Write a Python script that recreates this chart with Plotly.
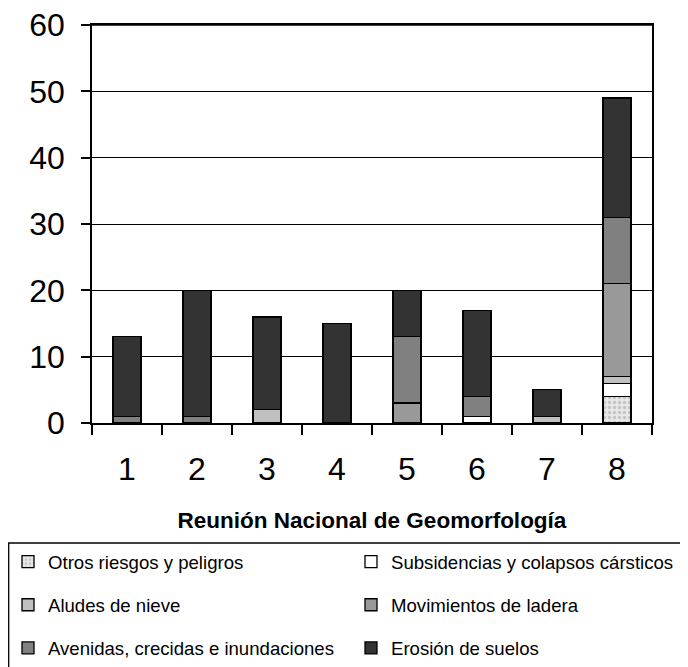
import plotly.graph_objects as go

reuniones = ["1", "2", "3", "4", "5", "6", "7", "8"]
otros = [0, 0, 0, 0, 0, 0, 0, 4]
subsidencias = [0, 0, 0, 0, 0, 1, 0, 2]
aludes = [0, 0, 2, 0, 0, 0, 1, 1]
movimientos = [0, 0, 0, 0, 3, 0, 0, 14]
avenidas = [1, 1, 0, 0, 10, 3, 0, 10]
erosion = [12, 19, 14, 15, 7, 13, 4, 18]
y_ticks = [0, 10, 20, 30, 40, 50, 60]

# (name, values, colour, patterned, legend column)
series = [
    ("Otros riesgos y peligros", otros, "#e2e2e2", True, "legend"),
    ("Subsidencias y colapsos cársticos", subsidencias, "#ffffff", False, "legend2"),
    ("Aludes de nieve", aludes, "#c0c0c0", False, "legend"),
    ("Movimientos de ladera", movimientos, "#999999", False, "legend2"),
    ("Avenidas, crecidas e inundaciones", avenidas, "#808080", False, "legend"),
    ("Erosión de suelos", erosion, "#333333", False, "legend2"),
]

fig = go.Figure()
for name, vals, color, pat, leg in series:
    marker = dict(color=color, line=dict(color="#000000", width=1.3))
    if pat:
        marker["pattern"] = dict(shape=".", fgcolor="#a0a0a0", bgcolor="#e8e8e8", size=5, solidity=0.35)
    fig.add_trace(go.Bar(x=reuniones, y=vals, name=name, marker=marker,
                         legend=leg, legendgroup=name))

font_family = "Liberation Sans, Arial, sans-serif"
OFF = 8  # page body margin
FW, FH = 680, 659
PL, PT, PW, PH = 92 - OFF, 25 - OFF, 560, 398


def px_x(screen):
    return (screen - OFF - PL) / PW


def px_y(screen):
    return (PT + PH - (screen - OFF)) / PH


leg_common = dict(
    orientation="v",
    xanchor="left",
    yanchor="top",
    borderwidth=0,
    bgcolor="rgba(0,0,0,0)",
    font=dict(size=18.6, family=font_family),
    tracegroupgap=16,
    traceorder="grouped",
)

fig.update_layout(
    barmode="stack",
    bargap=0.6,
    width=FW,
    height=FH,
    margin=dict(l=PL, r=FW - PL - PW, t=PT, b=FH - PT - PH, autoexpand=False),
    plot_bgcolor="#ffffff",
    paper_bgcolor="#ffffff",
    font=dict(family=font_family, color="#000000"),
    showlegend=True,
    legend=dict(x=px_x(8), y=px_y(543), **leg_common),
    legend2=dict(x=px_x(351), y=px_y(543), **leg_common),
    shapes=[
        dict(type="rect", xref="paper", yref="paper",
             x0=px_x(8.7), x1=px_x(700), y0=px_y(543), y1=px_y(690),
             line=dict(color="#000000", width=1.3), fillcolor="rgba(0,0,0,0)", layer="below"),
        dict(type="line", xref="paper", yref="paper", x0=0, x1=1, y0=1, y1=1,
             line=dict(color="#000000", width=1.5), layer="above"),
    ],
    xaxis=dict(
        type="category",
        tickson="boundaries",
        ticks="outside",
        ticklen=10,
        tickcolor="#000000",
        tickwidth=1.5,
        showline=True,
        linecolor="#000000",
        linewidth=1.5,
        mirror=True,
        tickfont=dict(size=32),
        ticklabelstandoff=17,
        ticklabeloverflow="allow",
        title=dict(text="<b>Reunión Nacional de Geomorfología</b>", font=dict(size=22.5), standoff=26),
        showgrid=False,
    ),
    yaxis=dict(
        range=[0, 60],
        tickvals=y_ticks,
        ticks="outside",
        ticklen=9,
        tickcolor="#000000",
        tickwidth=1.5,
        showline=True,
        linecolor="#000000",
        linewidth=1.5,
        mirror=True,
        showgrid=True,
        gridcolor="#000000",
        gridwidth=1.3,
        zeroline=False,
        tickfont=dict(size=32),
        ticklabelstandoff=10,
        ticklabeloverflow="allow",
    ),
)

fig.write_html("out.html")
